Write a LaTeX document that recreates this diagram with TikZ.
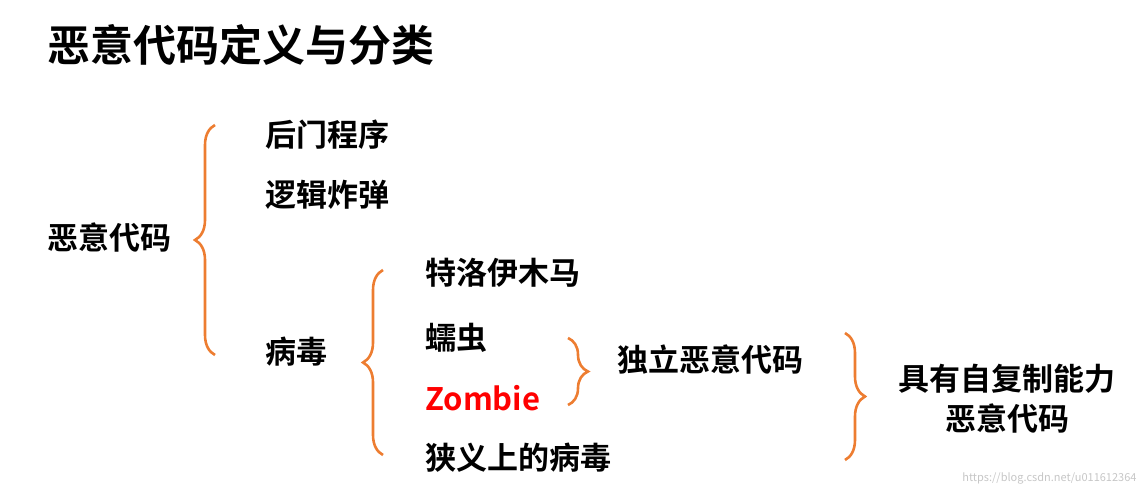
\documentclass[tikz,border=0pt]{standalone}
\usepackage{fontspec}
\setmainfont{Noto Sans CJK SC}[BoldFont={* Bold}]
\usetikzlibrary{decorations.pathreplacing}
\definecolor{braceorange}{RGB}{237,125,49}
\definecolor{zred}{RGB}{255,0,0}
\tikzset{
  item/.style={anchor=west,font=\fontsize{31}{34}\selectfont\bfseries,inner sep=0pt},
  curly/.style={draw=braceorange,line width=2.6pt,decorate,decoration={brace,amplitude=20pt}}
}
\begin{document}
\begin{tikzpicture}[x=1pt,y=1pt,yscale=-1]
\useasboundingbox (0,0) rectangle (1146,494);
% title
\node[item,font=\fontsize{43}{46}\selectfont\bfseries] (title) at (47,45) {恶意代码定义与分类};
% first level
\node[item] (mal) at (47,238) {恶意代码};
\node[item] (backdoor) at (265,135) {后门程序};
\node[item] (bomb) at (265,195) {逻辑炸弹};
\node[item] (virus) at (265,352) {病毒};
% second level
\node[item] (trojan) at (425,273) {特洛伊木马};
\node[item] (worm) at (425,338) {蠕虫};
\node[item,text=zred] (zombie) at (425,398) {Zombie};
\node[item] (narrow) at (425,458) {狭义上的病毒};
% groups
\node[item] (indep) at (617,360) {独立恶意代码};
\node[font=\fontsize{31}{40}\selectfont\bfseries,align=center,inner sep=0pt] (selfrep) at (1007,399) {具有自复制能力\\恶意代码};
% braces
\draw[curly] (215,355) -- (215,125);
\draw[curly] (383,455) -- (383,270);
\draw[curly] (568,338) -- (568,405);
\draw[curly] (845,333) -- (845,460);
% watermark
\node[anchor=east,text=gray!45,font=\fontsize{11}{12}\selectfont] (mark) at (1140,478) {https://blog.csdn.net/u011612364};
\end{tikzpicture}
\end{document}
